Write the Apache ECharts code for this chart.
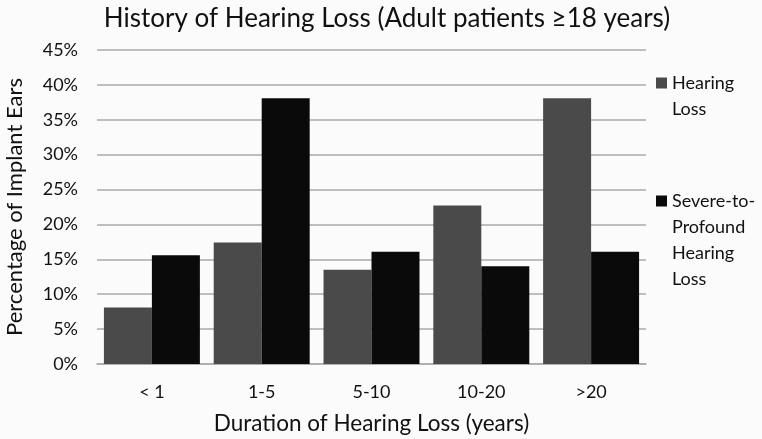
<!DOCTYPE html>
<html>
<head>
<meta charset="utf-8">
<script src="https://cdn.jsdelivr.net/npm/echarts@6/dist/echarts.min.js"></script>
<style>
html,body{margin:0;padding:0;background:#fbfbfb;}
#c{width:762px;height:439px;}
</style>
</head>
<body>
<div id="c"></div>
<script>
const categories = ['< 1', '1-5', '5-10', '10-20', '>20'];
const hearingLoss = [8.1, 17.4, 13.5, 22.7, 38.1];
const severeToProfound = [15.6, 38.1, 16.1, 14.0, 16.1];
const seriesNames = ['Hearing Loss', 'Severe-to-Profound Hearing Loss'];
const legendLabels = {
  'Hearing Loss': '\nHearing\nLoss',
  'Severe-to-Profound Hearing Loss': '\n\n\nSevere-to-\nProfound\nHearing\nLoss'
};

const FONT = 'Lato';
const chart = echarts.init(document.getElementById('c'), null, {renderer: 'canvas'});
const legendCommon = {
  orient: 'vertical',
  left: 656,
  padding: 0,
  itemWidth: 11,
  itemHeight: 11,
  itemGap: 0,
  selectedMode: false,
  icon: 'rect',
  textStyle: {fontFamily: FONT, fontSize: 18, color: '#111', lineHeight: 26},
  formatter: name => legendLabels[name]
};
chart.setOption({
  backgroundColor: '#fbfbfb',
  animation: false,
  title: {
    text: 'History of Hearing Loss (Adult patients ≥18 years)',
    left: 382,
    textAlign: 'center',
    top: 1,
    textStyle: {fontFamily: FONT, fontSize: 26, fontWeight: 'normal', color: '#111'}
  },
  legend: [
    Object.assign({}, legendCommon, {top: 44, data: [seriesNames[0]]}),
    Object.assign({}, legendCommon, {top: 110, data: [seriesNames[1]]})
  ],
  grid: {left: 97, right: 116, top: 50, bottom: 75, containLabel: false, outerBoundsMode: 'none'},
  xAxis: {
    type: 'category',
    data: categories,
    axisTick: {show: false},
    axisLine: {lineStyle: {color: '#aaaaaa', width: 1.5}},
    axisLabel: {fontFamily: FONT, fontSize: 18, color: '#111', margin: 19},
    name: 'Duration of Hearing Loss (years)',
    nameLocation: 'middle',
    nameGap: 48,
    nameTextStyle: {fontFamily: FONT, fontSize: 22.5, color: '#111'}
  },
  yAxis: {
    type: 'value',
    min: 0,
    max: 45,
    interval: 5,
    axisLine: {show: false},
    axisTick: {show: false},
    axisLabel: {fontFamily: FONT, fontSize: 18, color: '#111', margin: 19, formatter: '{value}%'},
    splitLine: {lineStyle: {color: '#aaaaaa', width: 1.5}},
    name: 'Percentage of Implant Ears',
    nameLocation: 'middle',
    nameRotate: 90,
    nameGap: 71,
    nameTextStyle: {fontFamily: FONT, fontSize: 22, color: '#111'}
  },
  series: [
    {name: seriesNames[0], type: 'bar', data: hearingLoss, barGap: '0%', barCategoryGap: '12.6%',
     itemStyle: {color: '#4a4a4a'}},
    {name: seriesNames[1], type: 'bar', data: severeToProfound, barGap: '0%', barCategoryGap: '12.6%',
     itemStyle: {color: '#0a0a0a'}}
  ]
});
</script>
</body>
</html>
